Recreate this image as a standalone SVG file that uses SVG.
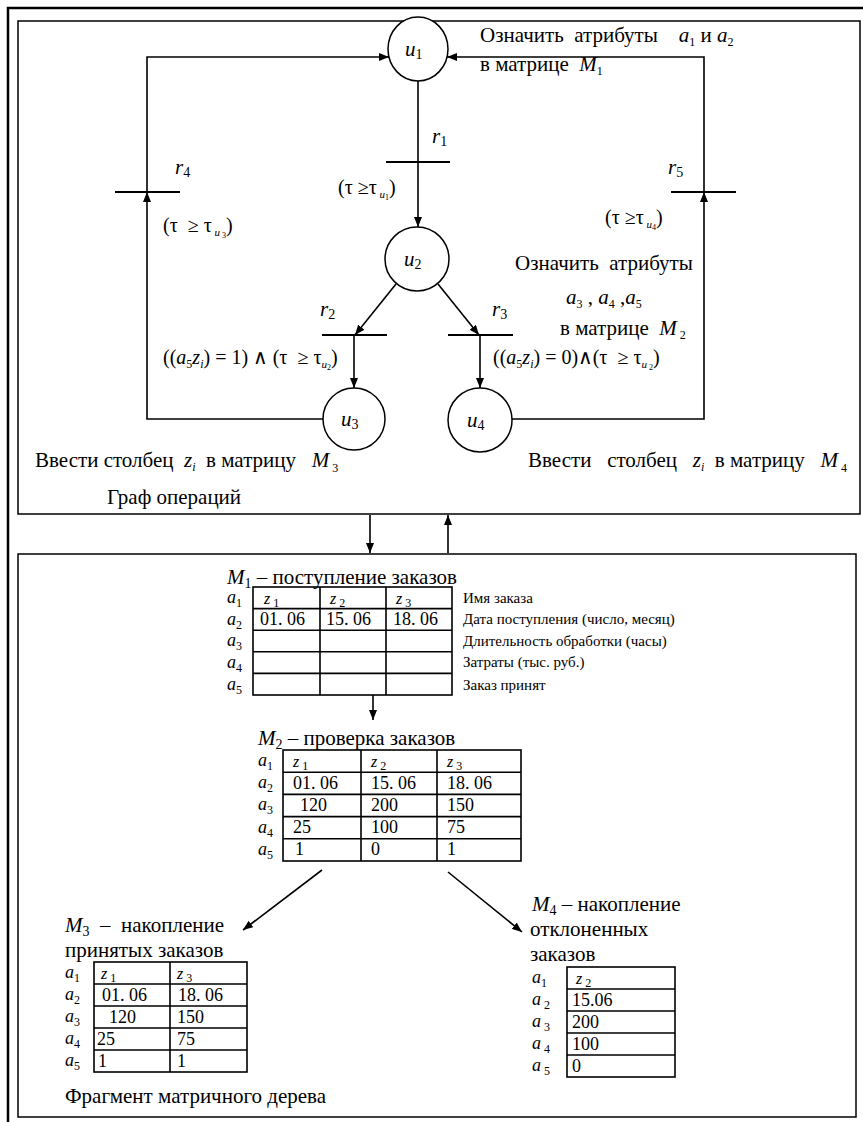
<svg xmlns="http://www.w3.org/2000/svg" width="863" height="1122" viewBox="0 0 863 1122" font-family="'Liberation Serif', 'DejaVu Serif', serif">
<defs>
<marker id="ah" markerWidth="10" markerHeight="8" refX="10" refY="4" orient="auto" markerUnits="userSpaceOnUse">
<path d="M0,0 L10,4 L0,8 z" fill="#000"/>
</marker>
<style>
text{font-family:'Liberation Serif','DejaVu Serif',serif}
.t{font-size:21px;fill:#000;white-space:pre}
.m{font-size:20px}
.i{font-style:italic}
.n{font-style:normal}
.ln{fill:none;stroke:#000;stroke-width:1.6}
.bar{stroke:#000;stroke-width:2}
.nd{fill:#fff;stroke:#000;stroke-width:1.5}
.frame{fill:none;stroke:#000;stroke-width:1.5}
.cell{fill:none;stroke:#000;stroke-width:1.6}
.rl{font-size:18px}
.tv{font-size:18px}
.lb{font-size:15px}
.zs{font-size:16px}
</style>
</defs>

<!-- page frame and panels -->
<g id="frame">
<path d="M8,1122 V8 H863" fill="none" stroke="#000" stroke-width="2.5"/>
<rect class="frame" x="18" y="21" width="842" height="493"/>
<rect class="frame" x="18" y="554" width="838" height="563"/>
</g>

<!-- operation graph and matrix tree: connectors -->
<g id="connectors">
<path class="ln" d="M418,81 V162"/>
<path class="ln" d="M418,162 V227" marker-end="url(#ah)"/>
<path class="ln" d="M396,284 L355,335" marker-end="url(#ah)"/>
<path class="ln" d="M438,284 L479,335" marker-end="url(#ah)"/>
<path class="ln" d="M354,335 V388" marker-end="url(#ah)"/>
<path class="ln" d="M480,335 V388" marker-end="url(#ah)"/>
<path class="ln" d="M323,419 H147 V192" marker-end="url(#ah)"/>
<path class="ln" d="M147,192 V57 H389" marker-end="url(#ah)"/>
<path class="ln" d="M512,419 H704 V192" marker-end="url(#ah)"/>
<path class="ln" d="M704,192 V57 H447" marker-end="url(#ah)"/>
<path class="ln" d="M370,515 V553" marker-end="url(#ah)"/>
<path class="ln" d="M448,553 V515" marker-end="url(#ah)"/>
<path class="ln" d="M373,695 V720" marker-end="url(#ah)"/>
<path class="ln" d="M322,870 L243,930" marker-end="url(#ah)"/>
<path class="ln" d="M448,872 L522,932" marker-end="url(#ah)"/>
</g>

<!-- transitions -->
<g id="r1"><line class="bar" x1="386" y1="162" x2="450" y2="162"/>
<text class="t i" x="432" y="143">r<tspan class="n" dy="3" font-size="14">1</tspan></text></g>
<g id="r2"><line class="bar" x1="322" y1="335" x2="387" y2="335"/>
<text class="t i" x="320" y="316">r<tspan class="n" dy="3" font-size="14">2</tspan></text></g>
<g id="r3"><line class="bar" x1="448" y1="335" x2="513" y2="335"/>
<text class="t i" x="492" y="316">r<tspan class="n" dy="3" font-size="14">3</tspan></text></g>
<g id="r4"><line class="bar" x1="115" y1="192" x2="180" y2="192"/>
<text class="t i" x="175" y="174">r<tspan class="n" dy="3" font-size="14">4</tspan></text></g>
<g id="r5"><line class="bar" x1="671" y1="192" x2="736" y2="192"/>
<text class="t i" x="668" y="174">r<tspan class="n" dy="3" font-size="14">5</tspan></text></g>

<!-- operations -->
<g id="u1"><ellipse class="nd" cx="418" cy="49" rx="30" ry="32"/>
<text class="t i" x="405" y="56">u<tspan class="n" dy="3" font-size="14">1</tspan></text></g>
<g id="u2"><circle class="nd" cx="417" cy="259" r="32"/>
<text class="t i" x="404" y="266">u<tspan class="n" dy="3" font-size="14">2</tspan></text></g>
<g id="u3"><circle class="nd" cx="354" cy="419" r="31"/>
<text class="t i" x="341" y="426">u<tspan class="n" dy="3" font-size="14">3</tspan></text></g>
<g id="u4"><circle class="nd" cx="480" cy="420" r="32"/>
<text class="t i" x="467" y="427">u<tspan class="n" dy="3" font-size="14">4</tspan></text></g>

<!-- graph annotations -->
<g id="graph-labels">
<text class="t" x="480" y="42">Означить  атрибуты    <tspan class="i">a</tspan><tspan dy="4" font-size="12">1</tspan><tspan dy="-4"> и </tspan><tspan class="i">a</tspan><tspan dy="4" font-size="12">2</tspan></text>
<text class="t" x="480" y="71">в матрице  <tspan class="i">M</tspan><tspan dy="4" font-size="12">1</tspan></text>
<text class="t m" x="338" y="194">(τ ≥τ<tspan class="i" dy="4" font-size="11"> u</tspan><tspan dy="2" font-size="8">1</tspan><tspan dy="-6">)</tspan></text>
<text class="t m" x="163" y="232">(τ  ≥ τ<tspan class="i" dy="4" font-size="11"> u</tspan><tspan dy="2" font-size="8"> 3</tspan><tspan dy="-6">)</tspan></text>
<text class="t m" x="605" y="224">(τ ≥τ<tspan class="i" dy="4" font-size="11"> u</tspan><tspan dy="2" font-size="8">4</tspan><tspan dy="-6">)</tspan></text>
<text class="t" x="515" y="270">Означить  атрибуты</text>
<text class="t" x="566" y="304"><tspan class="i">a</tspan><tspan dy="4" font-size="12">3</tspan><tspan dy="-4"> , </tspan><tspan class="i">a</tspan><tspan dy="4" font-size="12">4</tspan><tspan dy="-4"> ,</tspan><tspan class="i">a</tspan><tspan dy="4" font-size="12">5</tspan></text>
<text class="t" x="560" y="335">в матрице  <tspan class="i">M</tspan><tspan dy="4" font-size="12"> 2</tspan></text>
<text class="t m" x="163" y="364">((<tspan class="i">a</tspan><tspan dy="4" font-size="12">5</tspan><tspan class="i" dy="-4">z</tspan><tspan class="i" dy="4" font-size="12">i</tspan><tspan dy="-4">) = 1) ∧ (τ  ≥ τ</tspan><tspan class="i" dy="4" font-size="11">u</tspan><tspan dy="2" font-size="8">2</tspan><tspan dy="-6">)</tspan></text>
<text class="t m" x="493" y="364">((<tspan class="i">a</tspan><tspan dy="4" font-size="12">5</tspan><tspan class="i" dy="-4">z</tspan><tspan class="i" dy="4" font-size="12">i</tspan><tspan dy="-4">) = 0)∧(τ  ≥ τ</tspan><tspan class="i" dy="4" font-size="11">u</tspan><tspan dy="2" font-size="8"> 2</tspan><tspan dy="-6">)</tspan></text>
<text class="t" x="35" y="467">Ввести столбец  <tspan class="i">z</tspan><tspan class="i" dy="4" font-size="12">i</tspan><tspan dy="-4">  в матрицу   </tspan><tspan class="i">M</tspan><tspan dy="5" font-size="12"> 3</tspan></text>
<text class="t" x="528" y="467">Ввести   столбец   <tspan class="i">z</tspan><tspan class="i" dy="4" font-size="12">i</tspan><tspan dy="-4">  в матрицу   </tspan><tspan class="i">M</tspan><tspan dy="5" font-size="12"> 4</tspan></text>
<text class="t" x="107" y="504">Граф операций</text>
</g>

<!-- matrix M1 -->
<g id="M1">
<text class="t" x="227" y="584"><tspan class="i">M</tspan><tspan dy="4" font-size="14">1</tspan><tspan dy="-4"> – поступление заказов</tspan></text>
<rect class="cell" x="253" y="587" width="199" height="108"/>
<path class="cell" d="M253,608.6 H452 M253,630.2 H452 M253,651.8 H452 M253,673.4 H452 M320,587 V695 M386,587 V695"/>
<g class="t i rl"><text x="227" y="603">a<tspan class="n" dy="4" font-size="12">1</tspan></text><text x="227" y="625">a<tspan class="n" dy="4" font-size="12">2</tspan></text><text x="227" y="646">a<tspan class="n" dy="4" font-size="12">3</tspan></text><text x="227" y="668">a<tspan class="n" dy="4" font-size="12">4</tspan></text><text x="227" y="690">a<tspan class="n" dy="4" font-size="12">5</tspan></text></g>
<g class="t i zs"><text x="264" y="604">z<tspan class="n" dy="3" font-size="12"> 1</tspan></text><text x="330" y="604">z<tspan class="n" dy="3" font-size="12"> 2</tspan></text><text x="396" y="604">z<tspan class="n" dy="3" font-size="12"> 3</tspan></text></g>
<g class="t tv"><text x="260" y="625">01. 06</text><text x="326" y="625">15. 06</text><text x="393" y="625">18. 06</text></g>
<g class="t lb"><text x="463" y="603">Имя заказа</text><text x="463" y="624">Дата поступления (число, месяц)</text><text x="463" y="646">Длительность обработки (часы)</text><text x="463" y="667">Затраты (тыс. руб.)</text><text x="463" y="690">Заказ принят</text></g>
</g>

<!-- matrix M2 -->
<g id="M2">
<text class="t" x="258" y="745"><tspan class="i">M</tspan><tspan dy="4" font-size="14">2</tspan><tspan dy="-4"> – проверка заказов</tspan></text>
<rect class="cell" x="283" y="750" width="238" height="111"/>
<path class="cell" d="M283,772.2 H521 M283,794.4 H521 M283,816.6 H521 M283,838.8 H521 M361,750 V861 M437,750 V861"/>
<g class="t i rl"><text x="258" y="766">a<tspan class="n" dy="4" font-size="12">1</tspan></text><text x="258" y="788">a<tspan class="n" dy="4" font-size="12">2</tspan></text><text x="258" y="810">a<tspan class="n" dy="4" font-size="12">3</tspan></text><text x="258" y="833">a<tspan class="n" dy="4" font-size="12">4</tspan></text><text x="258" y="855">a<tspan class="n" dy="4" font-size="12">5</tspan></text></g>
<g class="t i zs"><text x="293" y="767">z<tspan class="n" dy="3" font-size="12"> 1</tspan></text><text x="371" y="767">z<tspan class="n" dy="3" font-size="12"> 2</tspan></text><text x="447" y="767">z<tspan class="n" dy="3" font-size="12"> 3</tspan></text></g>
<g class="t tv">
<text x="293" y="789">01. 06</text><text x="371" y="789">15. 06</text><text x="447" y="789">18. 06</text>
<text x="300" y="811">120</text><text x="371" y="811">200</text><text x="447" y="811">150</text>
<text x="293" y="833">25</text><text x="371" y="833">100</text><text x="447" y="833">75</text>
<text x="295" y="855">1</text><text x="371" y="855">0</text><text x="447" y="855">1</text>
</g>
</g>

<!-- matrix M3 -->
<g id="M3">
<text class="t" x="65" y="932"><tspan class="i">M</tspan><tspan dy="4" font-size="14">3</tspan><tspan dy="-4">  –  накопление</tspan></text>
<text class="t" x="65" y="957">принятых заказов</text>
<rect class="cell" x="94" y="962" width="153" height="110"/>
<path class="cell" d="M94,984 H247 M94,1006 H247 M94,1028 H247 M94,1050 H247 M170,962 V1072"/>
<g class="t i rl"><text x="65" y="978">a<tspan class="n" dy="4" font-size="12">1</tspan></text><text x="65" y="1000">a<tspan class="n" dy="4" font-size="12">2</tspan></text><text x="65" y="1022">a<tspan class="n" dy="4" font-size="12">3</tspan></text><text x="65" y="1044">a<tspan class="n" dy="4" font-size="12">4</tspan></text><text x="65" y="1066">a<tspan class="n" dy="4" font-size="12">5</tspan></text></g>
<g class="t i zs"><text x="101" y="979">z<tspan class="n" dy="3" font-size="12"> 1</tspan></text><text x="177" y="979">z<tspan class="n" dy="3" font-size="12"> 3</tspan></text></g>
<g class="t tv">
<text x="102" y="1001">01. 06</text><text x="178" y="1001">18. 06</text>
<text x="109" y="1023">120</text><text x="177" y="1023">150</text>
<text x="97" y="1045">25</text><text x="177" y="1045">75</text>
<text x="98" y="1067">1</text><text x="177" y="1067">1</text>
</g>
<text class="t" x="65" y="1103">Фрагмент матричного дерева</text>
</g>

<!-- matrix M4 -->
<g id="M4">
<text class="t" x="532" y="911"><tspan class="i">M</tspan><tspan dy="4" font-size="14">4</tspan><tspan dy="-4"> – накопление</tspan></text>
<text class="t" x="530" y="936">отклоненных</text>
<text class="t" x="530" y="961">заказов</text>
<rect class="cell" x="567" y="967" width="108" height="110"/>
<path class="cell" d="M567,989 H675 M567,1011 H675 M567,1033 H675 M567,1055 H675"/>
<g class="t i rl"><text x="532" y="983">a<tspan class="n" dy="4" font-size="12">1</tspan></text><text x="532" y="1005">a<tspan class="n" dy="4" font-size="12"> 2</tspan></text><text x="532" y="1027">a<tspan class="n" dy="4" font-size="12"> 3</tspan></text><text x="532" y="1049">a<tspan class="n" dy="4" font-size="12"> 4</tspan></text><text x="532" y="1071">a<tspan class="n" dy="4" font-size="12"> 5</tspan></text></g>
<text class="t i zs" x="576" y="984">z<tspan class="n" dy="3" font-size="12"> 2</tspan></text>
<g class="t tv">
<text x="572" y="1006">15.06</text><text x="572" y="1028">200</text><text x="572" y="1050">100</text><text x="572" y="1072">0</text>
</g>
</g>
</svg>
